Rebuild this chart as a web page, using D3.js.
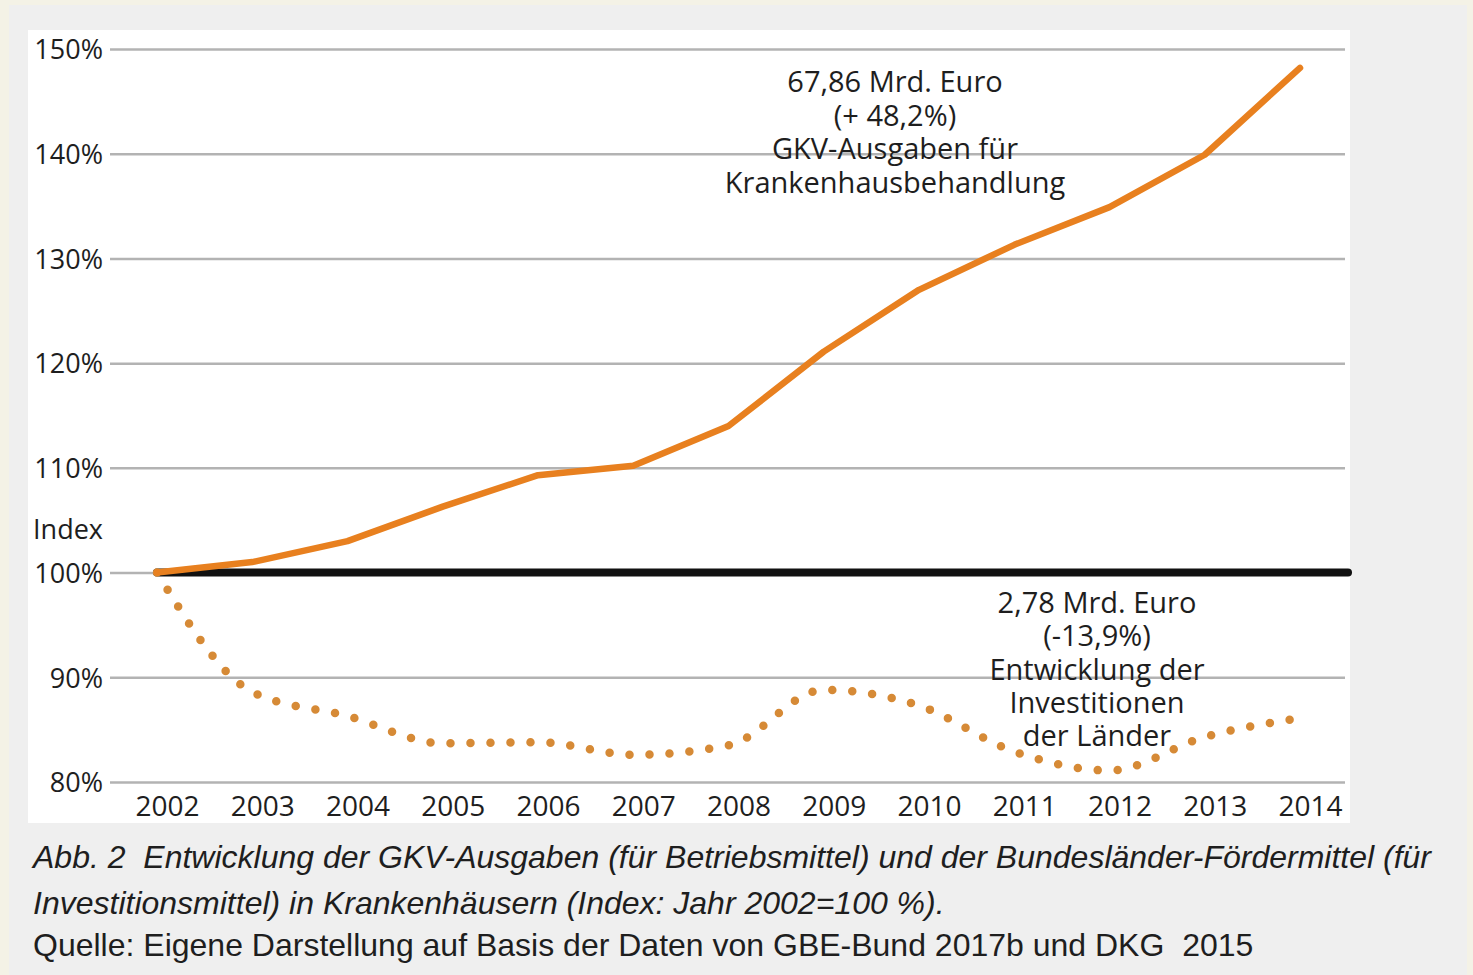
<!DOCTYPE html>
<html>
<head>
<meta charset="utf-8">
<script src="https://cdn.jsdelivr.net/npm/d3@7"></script>
<style>
  html, body { margin: 0; padding: 0; background: #f4f2e6; }
  svg { display: block; }
  text { white-space: pre; }
</style>
</head>
<body>
<svg id="chart" width="1473" height="975"></svg>
<script>
// ---- data ----
const years = [2002, 2003, 2004, 2005, 2006, 2007, 2008, 2009, 2010, 2011, 2012, 2013, 2014];
const gkvIndex = [100, 101, 103, 106.3, 109.3, 110.2, 114, 121.1, 127, 131.3, 134.9, 139.9, 148.2];
const laenderIndex = [100, 88.6, 86.3, 83.7, 83.8, 82.6, 83.5, 88.8, 87.3, 82.9, 81.1, 84.3, 86.1];
const baseline = [100, 100];
const yTicks = [80, 90, 100, 110, 120, 130, 140, 150];
const gkvLabel = ["67,86 Mrd. Euro", "(+ 48,2%)", "GKV-Ausgaben für", "Krankenhausbehandlung"];
const laenderLabel = ["2,78 Mrd. Euro", "(-13,9%)", "Entwicklung der", "Investitionen", "der Länder"];
const captionLines = [
  "Abb. 2  Entwicklung der GKV-Ausgaben (für Betriebsmittel) und der Bundesländer-Fördermittel (für",
  "Investitionsmittel) in Krankenhäusern (Index: Jahr 2002=100 %).",
  "Quelle: Eigene Darstellung auf Basis der Daten von GBE-Bund 2017b und DKG  2015"
];

// ---- drawing ----
const svg = d3.select("#chart");
const chartFont = "'Open Sans', 'Noto Sans', sans-serif";
const capFont = "'Liberation Sans', Arial, sans-serif";

svg.append("rect").attr("x", 9).attr("y", 5).attr("width", 1458).attr("height", 970).attr("fill", "#efefef");
svg.append("rect").attr("x", 28).attr("y", 30).attr("width", 1322).attr("height", 793).attr("fill", "#ffffff");

const x = d3.scaleLinear().domain([2002, 2014]).range([157, 1300]);
const y = d3.scaleLinear().domain([80, 150]).range([782, 49]);

// y axis with gridlines
const yAxis = d3.axisLeft(y).tickValues(yTicks).tickFormat(d => d + "%").tickSize(1235).tickPadding(7);
const gy = svg.append("g").attr("transform", "translate(1345,0)").call(yAxis);
gy.select(".domain").remove();
gy.selectAll(".tick line").attr("stroke", "#b3b3b3").attr("stroke-width", 2.5);
gy.selectAll(".tick text").attr("font-family", chartFont).attr("font-size", 27).attr("fill", "#1e1e1e")
  .attr("dy", "0.36em");

svg.append("text").attr("x", 103).attr("y", 539).attr("text-anchor", "end")
  .attr("font-family", chartFont).attr("font-size", 27).attr("fill", "#1e1e1e").text("Index");

// x axis
const xAxis = d3.axisBottom(x).tickValues(years).tickFormat(d3.format("d")).tickSize(0).tickPadding(14);
const gx = svg.append("g").attr("transform", "translate(0,782)").call(xAxis);
gx.select(".domain").remove();
gx.selectAll(".tick text").attr("font-family", chartFont).attr("font-size", 28).attr("fill", "#1e1e1e")
  .attr("dx", 10);

// baseline (black)
svg.append("path")
  .datum(baseline)
  .attr("d", d3.line().x((d, i) => i === 0 ? x(2002) : x(2014) + 48).y(d => y(d)))
  .attr("fill", "none").attr("stroke", "#111").attr("stroke-width", 8).attr("stroke-linecap", "round");

// Länder dotted line
const lineL = d3.line().x((d, i) => x(years[i])).y(d => y(d)).curve(d3.curveMonotoneX);
svg.append("path")
  .datum(laenderIndex)
  .attr("d", lineL)
  .attr("fill", "none").attr("stroke", "#d68a36").attr("stroke-width", 8.5)
  .attr("stroke-linecap", "round").attr("stroke-dasharray", "0 20");

// GKV solid line
const lineG = d3.line().x((d, i) => x(years[i])).y(d => y(d)).curve(d3.curveLinear);
svg.append("path")
  .datum(gkvIndex)
  .attr("d", lineG)
  .attr("fill", "none").attr("stroke", "#e8801f").attr("stroke-width", 6.5)
  .attr("stroke-linecap", "round").attr("stroke-linejoin", "round");

// annotations
svg.append("g").selectAll("text").data(gkvLabel).join("text")
  .attr("x", 895).attr("y", (d, i) => 92 + i * 33.5)
  .attr("text-anchor", "middle").attr("font-family", chartFont).attr("font-size", 29).attr("fill", "#1e1e1e")
  .text(d => d);

svg.append("g").selectAll("text").data(laenderLabel).join("text")
  .attr("x", 1097).attr("y", (d, i) => 613 + i * 33.3)
  .attr("text-anchor", "middle").attr("font-family", chartFont).attr("font-size", 29).attr("fill", "#1e1e1e")
  .text(d => d);

// caption
svg.append("g").selectAll("text").data(captionLines).join("text")
  .attr("x", 33).attr("y", (d, i) => [868, 914, 956][i])
  .attr("font-family", capFont).attr("font-size", 32).attr("fill", "#1e1e1e")
  .attr("font-style", (d, i) => i < 2 ? "italic" : "normal")
  .text(d => d);
</script>
</body>
</html>
